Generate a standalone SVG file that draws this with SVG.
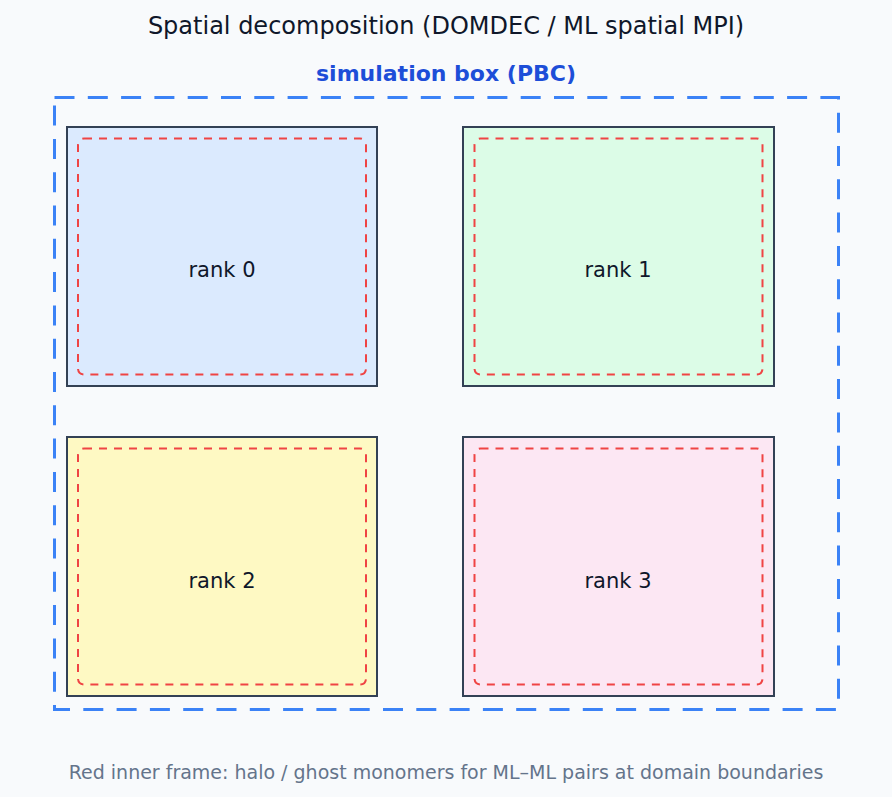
<svg xmlns="http://www.w3.org/2000/svg" width="892" height="797" viewBox="0 0 892 797">
<style>
text{font-family:"DejaVu Sans","Liberation Sans",sans-serif}
.title{font-size:24px;fill:#0f172a;text-anchor:middle}
.sub{font-size:22px;font-weight:bold;fill:#1d4ed8;text-anchor:middle}
.foot{font-size:19px;fill:#64748b;text-anchor:middle}
.lbl{font-size:21px;fill:#0f172a;text-anchor:middle}
.rank{stroke:#334155;stroke-width:2}
.halo{fill:none;stroke:#ef4444;stroke-width:2;stroke-dasharray:8 7}
.box{fill:none;stroke:#3b82f6;stroke-width:3;stroke-dasharray:20 13.3}
</style>
<rect width="892" height="797" fill="#f8fafc"/>
<text class="title" x="446" y="34">Spatial decomposition (DOMDEC / ML spatial MPI)</text>
<text class="sub" x="446" y="81">simulation box (PBC)</text>
<g id="simbox"><rect class="box" x="54.5" y="97.5" width="784" height="612"/></g>
<g id="rank0"><rect class="rank" x="67" y="127" width="310" height="259" fill="#dbeafe"/><rect class="halo" x="78" y="138.5" width="288" height="236" rx="6"/><text class="lbl" x="222" y="277">rank 0</text></g>
<g id="rank1"><rect class="rank" x="463" y="127" width="311" height="259" fill="#dcfce7"/><rect class="halo" x="474.5" y="138.5" width="288" height="236" rx="6"/><text class="lbl" x="618" y="277">rank 1</text></g>
<g id="rank2"><rect class="rank" x="67" y="437" width="310" height="259" fill="#fef9c3"/><rect class="halo" x="78" y="448.5" width="288" height="236" rx="6"/><text class="lbl" x="222" y="588">rank 2</text></g>
<g id="rank3"><rect class="rank" x="463" y="437" width="311" height="259" fill="#fce7f3"/><rect class="halo" x="474.5" y="448.5" width="288" height="236" rx="6"/><text class="lbl" x="618" y="588">rank 3</text></g>
<g id="connectors"/>
<text class="foot" x="446" y="779">Red inner frame: halo / ghost monomers for ML–ML pairs at domain boundaries</text>
</svg>
